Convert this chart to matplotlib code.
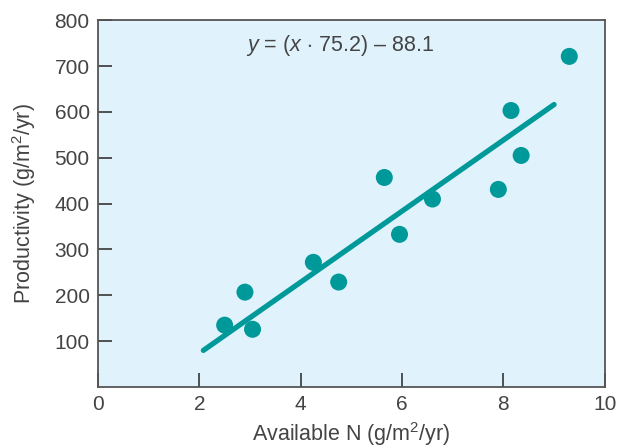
import matplotlib
matplotlib.use("Agg")
import matplotlib.pyplot as plt

# data
available_n = [2.5, 2.9, 3.05, 4.25, 4.75, 5.65, 5.95, 6.6, 7.9, 8.15, 8.35, 9.3]
productivity = [135, 207, 126, 272, 229, 457, 333, 410, 431, 603, 505, 721]

# fitted line as drawn
fit_x = [2.08, 9.0]
fit_y = [80, 616]

x_ticks = [0, 2, 4, 6, 8, 10]
y_ticks = [100, 200, 300, 400, 500, 600, 700, 800]

teal = "#00999a"
text_col = "#444444"

plt.rcParams["font.family"] = ["Liberation Sans", "DejaVu Sans"]
plt.rcParams["mathtext.fontset"] = "custom"
plt.rcParams["mathtext.rm"] = "Liberation Sans"
plt.rcParams["mathtext.it"] = "Liberation Sans:italic"

fig = plt.figure(figsize=(6.28, 4.48), dpi=100)
ax = fig.add_axes([0.156, 0.136, 0.807, 0.819])
ax.set_facecolor("#e0f2fc")

ax.plot(fit_x, fit_y, color=teal, lw=3.8, solid_capstyle="round", zorder=2)
ax.scatter(available_n, productivity, s=150, color=teal, edgecolors="none", zorder=3)

ax.set_xlim(0, 10)
ax.set_ylim(0, 800)
ax.set_xticks(x_ticks)
ax.set_yticks(y_ticks)
ax.tick_params(direction="in", length=10, width=1.3, color="#444444",
               labelsize=15, labelcolor=text_col, pad=6)
for s in ax.spines.values():
    s.set_color("#555555")
    s.set_linewidth(1.3)

ax.set_xlabel("Available N (g/m$^2$/yr)", fontsize=15.5, color=text_col, labelpad=4)
ax.set_ylabel("Productivity (g/m$^2$/yr)", fontsize=15.5, color=text_col, labelpad=12)

ax.text(4.78, 745, r"$\it{y}$ = ($\it{x}$ $\cdot$ 75.2) – 88.1", fontsize=15.5,
        color=text_col, ha="center", va="center")

fig.savefig("out.png", dpi=100)
